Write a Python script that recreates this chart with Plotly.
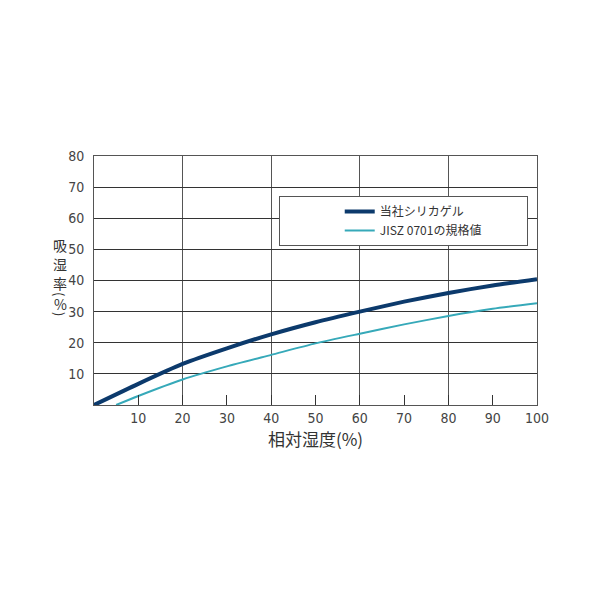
import plotly.graph_objects as go

# Data
rh_ours = [0, 10, 20, 30, 40, 50, 60, 70, 80, 90, 100]
ab_ours = [0, 6.8, 13.2, 18.2, 22.7, 26.6, 30, 33.2, 36, 38.4, 40.4]

rh_jis = [5, 10, 20, 30, 40, 50, 60, 70, 80, 90, 100]
ab_jis = [0, 2.9, 8.2, 12.4, 16.1, 19.8, 22.9, 25.9, 28.6, 30.9, 32.7]

name_ours = "当社シリカゲル"
name_jis = "JISZ 0701の規格値"

x_ticks = [10, 20, 30, 40, 50, 60, 70, 80, 90, 100]
x_grid = [20, 40, 60, 80, 100]
y_ticks = [10, 20, 30, 40, 50, 60, 70, 80]

y_title_chars = ["吸", "湿", "率", "(", "%", ")"]

FONT = "DejaVu Sans Condensed, Liberation Sans Narrow, Liberation Sans, sans-serif"
JP = "Noto Sans CJK JP, sans-serif"

fig = go.Figure()
fig.add_trace(go.Scatter(
    x=rh_ours, y=ab_ours, mode="lines", name=name_ours,
    line=dict(color="#0c3a6c", width=4, shape="spline", smoothing=0.6),
))
fig.add_trace(go.Scatter(
    x=rh_jis, y=ab_jis, mode="lines", name=name_jis,
    line=dict(color="#36a9b9", width=2, shape="spline", smoothing=0.6),
))

fig.update_layout(
    width=600, height=600,
    paper_bgcolor="white", plot_bgcolor="white",
    margin=dict(l=86, r=71, t=148, b=203),
    showlegend=True,
    legend=dict(
        orientation="h",
        x=0.417, y=0.839, xanchor="left", yanchor="top",
        bgcolor="white", bordercolor="#555", borderwidth=1,
        font=dict(family=JP, size=12, color="#333"),
        indentation=60, tracegroupgap=0,
        entrywidth=142, entrywidthmode="pixels",
    ),
    xaxis=dict(
        range=[0, 100], tickvals=x_ticks, showgrid=False,
        ticks="inside", ticklen=10, tickcolor="#333", tickwidth=1,
        showline=True, linecolor="#555", linewidth=1, mirror=True,
        tickfont=dict(family=FONT, size=14, color="#444"),
        zeroline=False,
        minor=dict(tickvals=x_grid, showgrid=True, gridcolor="#555", gridwidth=1, ticks=""),
        title=dict(text="相対湿度(%)", font=dict(family=JP, size=17, color="#333"), standoff=6),
    ),
    yaxis=dict(
        range=[0, 80], tickvals=y_ticks, showgrid=True, gridcolor="#333", gridwidth=1,
        showline=True, linecolor="#555", linewidth=1, mirror=True,
        ticks="", tickfont=dict(family=FONT, size=14, color="#444"),
        ticklabelstandoff=6,
        zeroline=False,
    ),
)

# vertical (tategaki) y-axis title, one character per annotation
y_title_px = [244, 263, 282, 293, 303, 313]
for ch, py in zip(y_title_chars, y_title_px):
    yp = 1 - ((py - 7) - 148) / (600 - 148 - 203)
    fig.add_annotation(
        text=ch, xref="paper", yref="paper",
        x=(59 - 7 - 86) / (600 - 86 - 71), y=yp,
        xanchor="center", yanchor="middle", showarrow=False,
        textangle=90 if ch in "()" else 0,
        font=dict(family=JP, size=14 if ch not in "()" else 13, color="#333"),
    )

fig.write_html("out.html")
